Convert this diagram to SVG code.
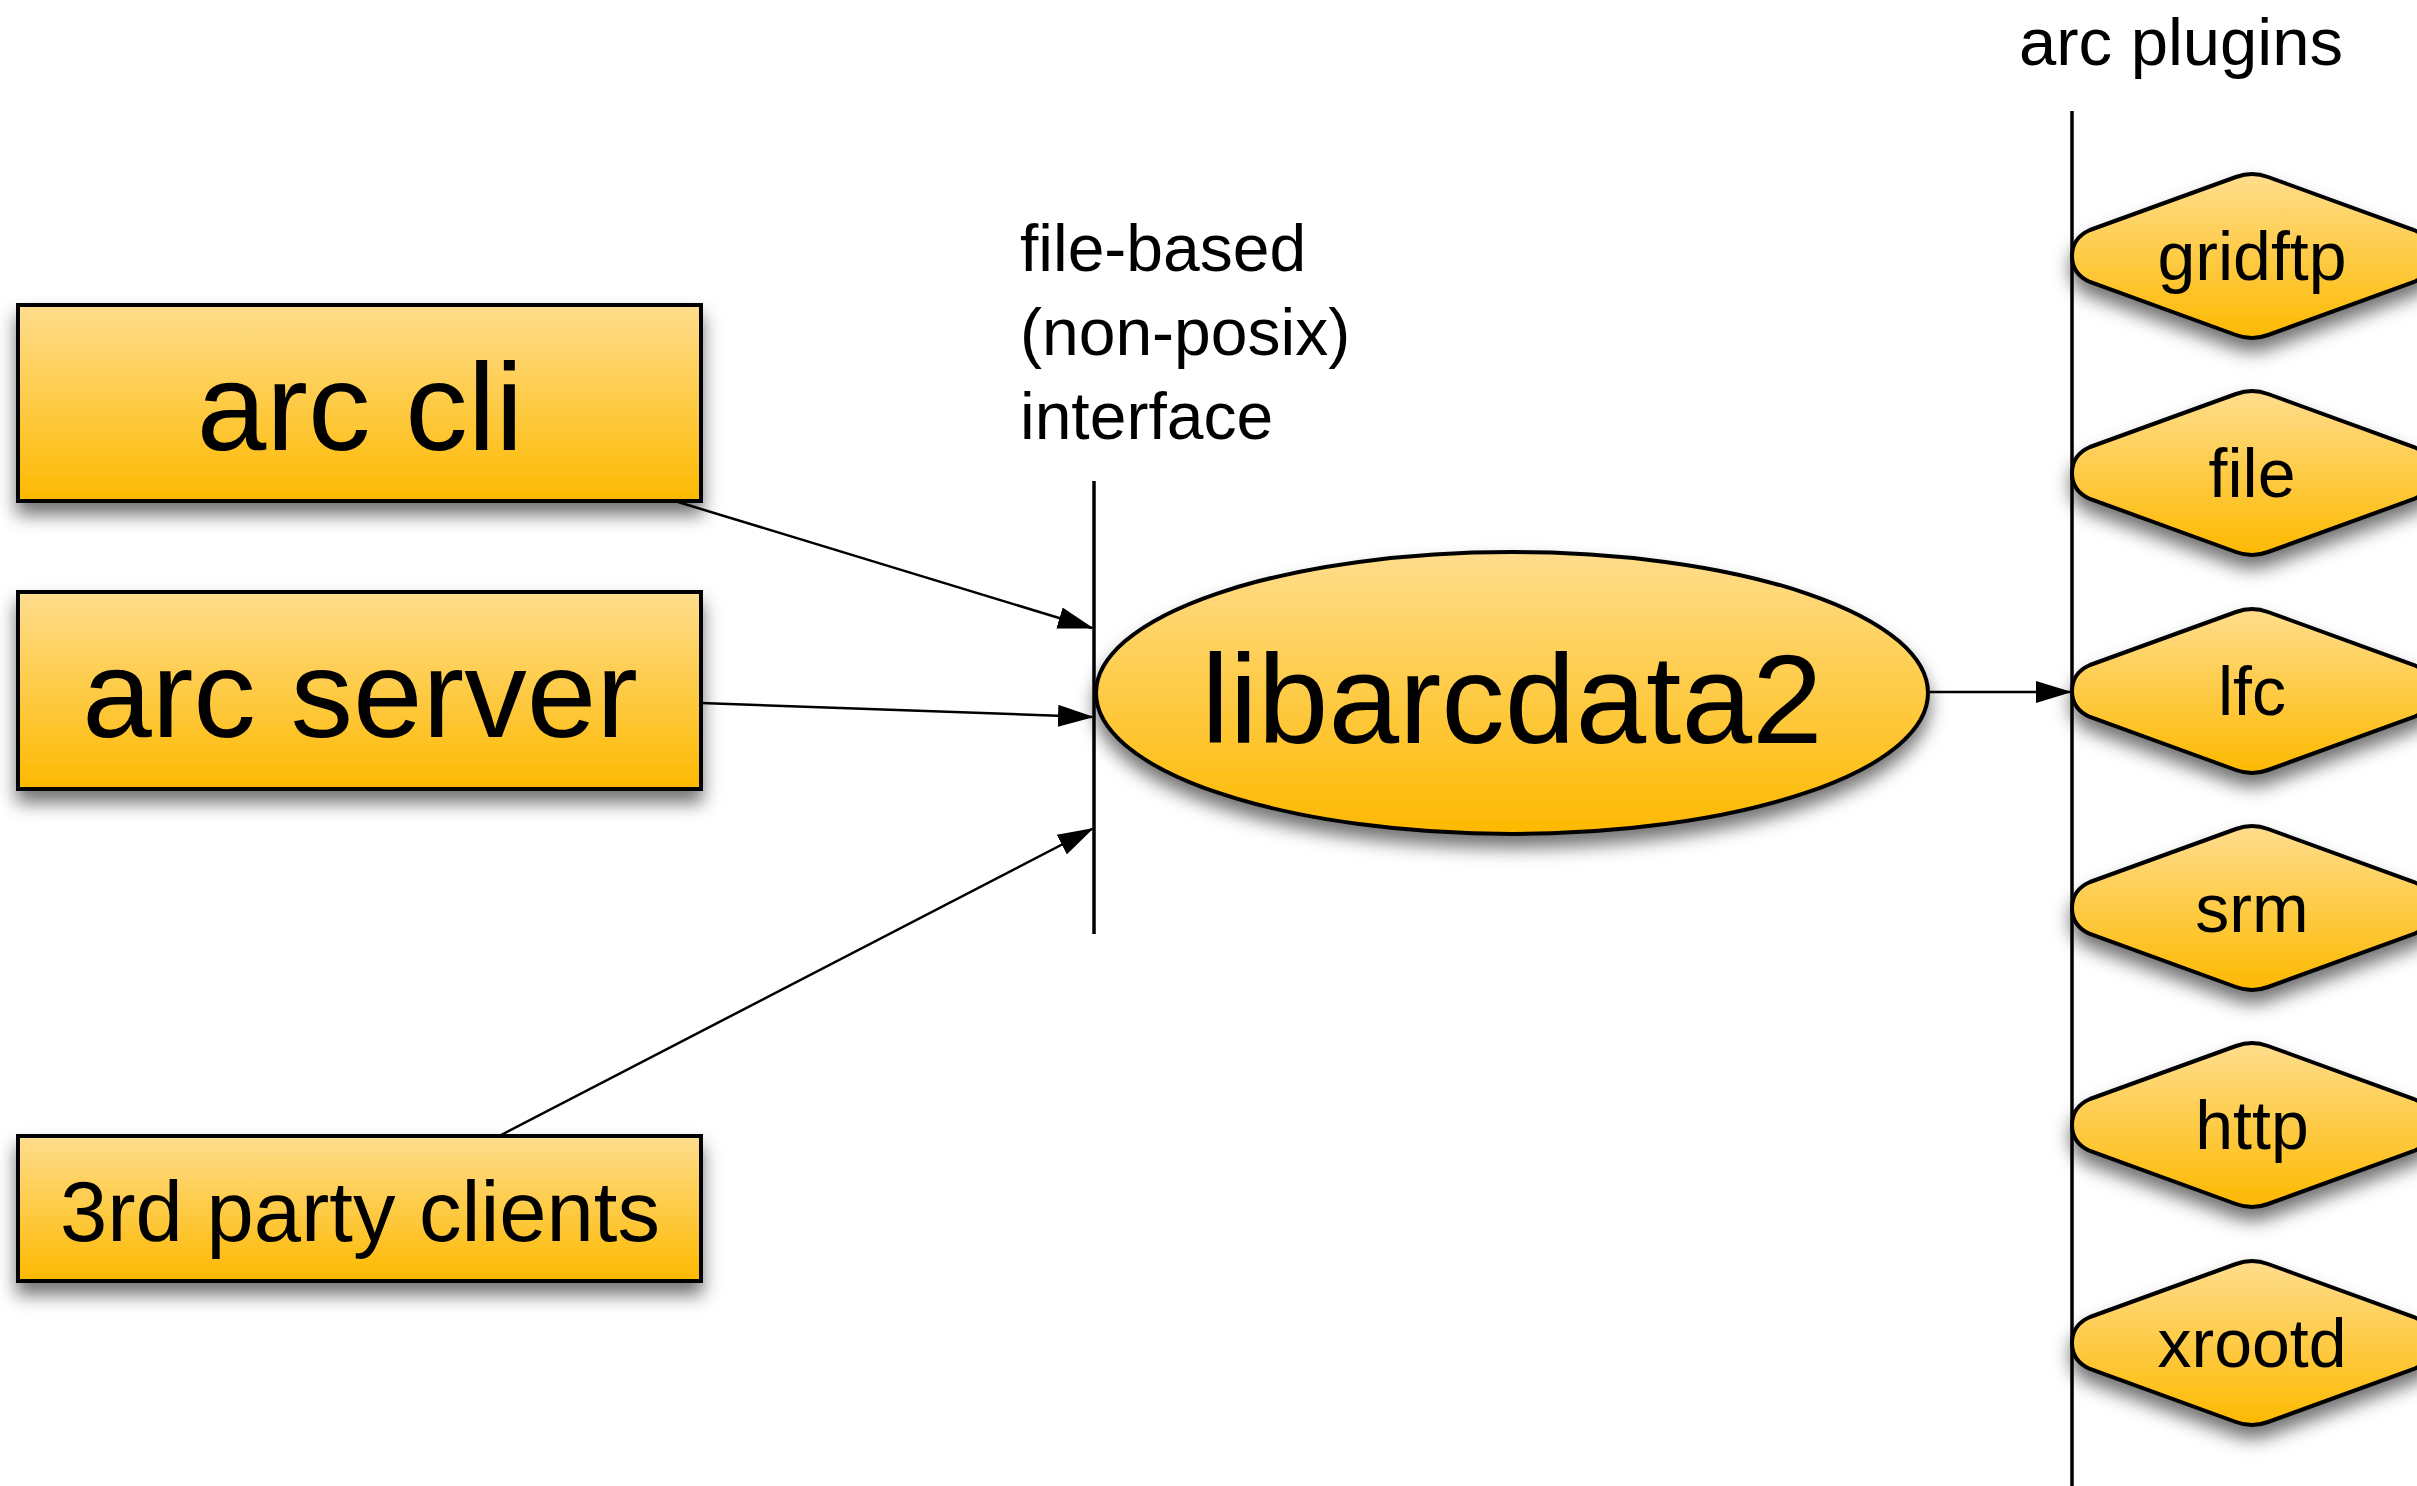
<svg xmlns="http://www.w3.org/2000/svg" width="2417" height="1486" viewBox="0 0 2417 1486">
<defs>
<linearGradient id="g" x1="0" y1="0" x2="0" y2="1">
<stop offset="0" stop-color="#FFDD8D"/>
<stop offset="1" stop-color="#FDB900"/>
</linearGradient>
<filter id="sh" x="-20%" y="-30%" width="140%" height="170%">
<feDropShadow dx="0" dy="12" stdDeviation="9" flood-color="#000" flood-opacity="0.55"/>
</filter>
<marker id="ah" markerWidth="36" markerHeight="22" refX="34" refY="11" orient="auto" markerUnits="userSpaceOnUse">
<path d="M0,0 L36,11 L0,22 Z" fill="#000"/>
</marker>
<path id="hex" d="M -162,-26 L -16,-79 Q 0,-85 16,-79 L 162,-26 Q 180,-18 180,0 Q 180,18 162,26 L 16,79 Q 0,85 -16,79 L -162,26 Q -180,18 -180,0 Q -180,-18 -162,-26 Z"/>
</defs>
<style>
.box{fill:url(#g);stroke:#000;stroke-width:4;filter:url(#sh)}
.t{font-family:"Liberation Sans",Arial,sans-serif;fill:#000}
.c{stroke:#000;stroke-width:2.5;fill:none}
.sep{stroke:#000;stroke-width:3.5}
.plug{font-size:68px;text-anchor:middle}
</style>
<rect width="2417" height="1486" fill="#fff"/>

<g id="separators">
<line class="sep" x1="1094" y1="481" x2="1094" y2="934"/>
<line class="sep" x1="2072" y1="111" x2="2072" y2="1486"/>
</g>

<g id="labels">
<text class="t" x="1020" y="271" font-size="66">file-based</text>
<text class="t" x="1020" y="355" font-size="66">(non-posix)</text>
<text class="t" x="1020" y="439" font-size="66">interface</text>
<text class="t" x="2019" y="65" font-size="67">arc plugins</text>
</g>

<g id="connectors">
<line class="c" x1="678" y1="502" x2="1092" y2="628" marker-end="url(#ah)"/>
<line class="c" x1="701" y1="703" x2="1092" y2="717" marker-end="url(#ah)"/>
<line class="c" x1="501" y1="1135" x2="1092" y2="829" marker-end="url(#ah)"/>
<line class="c" x1="1930" y1="692" x2="2070" y2="692" marker-end="url(#ah)"/>
</g>

<g id="arc-cli">
<rect class="box" x="18" y="305" width="683" height="196"/>
<text class="t" x="360" y="450" font-size="125" text-anchor="middle">arc cli</text>
</g>
<g id="arc-server">
<rect class="box" x="18" y="592" width="683" height="197"/>
<text class="t" x="360" y="737" font-size="125" text-anchor="middle">arc server</text>
</g>
<g id="third-party-clients">
<rect class="box" x="18" y="1136" width="683" height="145"/>
<text class="t" x="360" y="1241" font-size="85" text-anchor="middle">3rd party clients</text>
</g>

<g id="libarcdata2">
<ellipse class="box" cx="1512" cy="693" rx="416" ry="141"/>
<text class="t" x="1512" y="743" font-size="127" text-anchor="middle">libarcdata2</text>
</g>

<g id="gridftp" transform="translate(2252,256)">
<use href="#hex" class="box"/>
<text class="t plug" x="0" y="24">gridftp</text>
</g>
<g id="file" transform="translate(2252,473)">
<use href="#hex" class="box"/>
<text class="t plug" x="0" y="24">file</text>
</g>
<g id="lfc" transform="translate(2252,691)">
<use href="#hex" class="box"/>
<text class="t plug" x="0" y="24">lfc</text>
</g>
<g id="srm" transform="translate(2252,908)">
<use href="#hex" class="box"/>
<text class="t plug" x="0" y="24">srm</text>
</g>
<g id="http" transform="translate(2252,1125)">
<use href="#hex" class="box"/>
<text class="t plug" x="0" y="24">http</text>
</g>
<g id="xrootd" transform="translate(2252,1343)">
<use href="#hex" class="box"/>
<text class="t plug" x="0" y="24">xrootd</text>
</g>
</svg>
